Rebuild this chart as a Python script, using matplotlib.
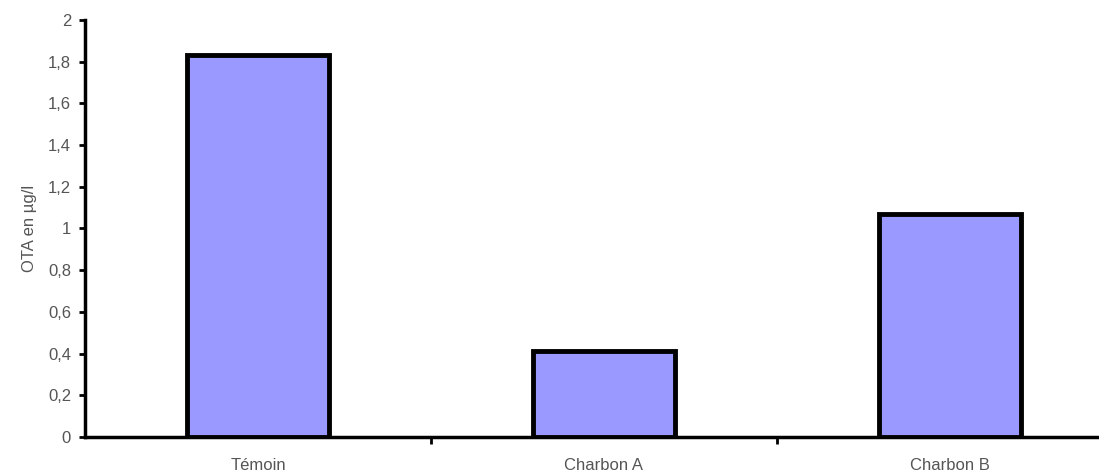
import matplotlib.pyplot as plt
from matplotlib.ticker import FuncFormatter

categories = ['Témoin', 'Charbon A', 'Charbon B']
ota = [1.83, 0.41, 1.07]

plt.rcParams['font.family'] = ['Liberation Sans', 'DejaVu Sans']

fig = plt.figure(figsize=(10.99, 4.76), dpi=100)
ax = fig.add_axes([0.0773, 0.082, 0.9445, 0.876])

x = range(len(categories))
ax.bar(x, ota, width=0.41, color='#9999FF', edgecolor='black', linewidth=3.5, zorder=3)

ax.set_xlim(-0.5, 2.5)
ax.set_ylim(0, 2)
ax.set_yticks([i * 0.2 for i in range(11)])
ax.yaxis.set_major_formatter(FuncFormatter(lambda v, p: ('%g' % round(v, 1)).replace('.', ',')))
ax.set_xticks([0.5, 1.5])
ax.set_xticklabels([])
ax.set_xticks(list(x), minor=True)
ax.set_xticklabels(categories, minor=True)
ax.tick_params(axis='x', which='minor', length=0, pad=15, labelsize=12, labelcolor='#555555')
ax.tick_params(axis='x', which='major', length=5, width=2, direction='out')
ax.tick_params(axis='y', length=4, width=2, direction='out', labelsize=12, labelcolor='#555555', pad=6)

for side in ['top', 'right']:
    ax.spines[side].set_visible(False)
ax.spines['left'].set_linewidth(2.5)
ax.spines['bottom'].set_linewidth(2.5)

ax.set_ylabel('OTA en µg/l', fontsize=12, color='#555555', labelpad=8)

fig.savefig('out.png', dpi=100)
